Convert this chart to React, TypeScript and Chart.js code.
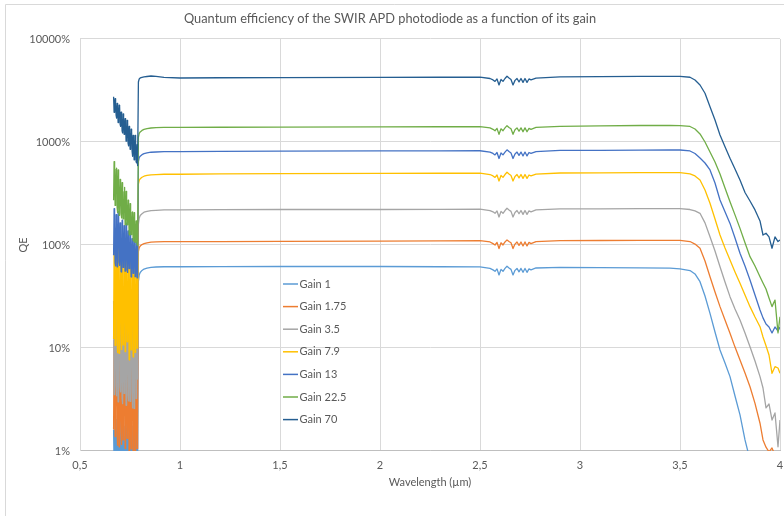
import React, { useEffect, useRef } from "react";
import { Chart, registerables } from "chart.js";

Chart.register(...registerables);

// ---------- texts ----------
const chartTitle = "Quantum efficiency of the SWIR APD photodiode as a function of its gain";
const xAxisTitle = "Wavelength (µm)";
const yAxisTitle = "QE";

// ---------- series meta ----------
const seriesLabels = ["Gain 1", "Gain 1.75", "Gain 3.5", "Gain 7.9", "Gain 13", "Gain 22.5", "Gain 70"];
const seriesColors = ["#5B9BD5", "#ED7D31", "#A5A5A5", "#FFC000", "#4472C4", "#70AD47", "#255E91"];

// ---------- ticks ----------
const yTickValues = [1, 10, 100, 1000, 10000];
const xTickValues = [0.5, 1, 1.5, 2, 2.5, 3, 3.5, 4];

// ---------- data (wavelength in µm, QE in %) ----------
const wavelengths = [
  // noisy short-wave region
  0.668, 0.6705, 0.673, 0.6755, 0.678, 0.6805, 0.683, 0.6855, 0.688, 0.6905, 0.693, 0.6955,
  0.698, 0.7005, 0.703, 0.7055, 0.708, 0.7105, 0.713, 0.7155, 0.718, 0.7205, 0.723, 0.7255,
  0.728, 0.7305, 0.733, 0.7355, 0.738, 0.7405, 0.743, 0.7455, 0.748, 0.7505, 0.753, 0.7555,
  0.758, 0.7605, 0.763, 0.7655, 0.768, 0.7705, 0.773, 0.7755, 0.778, 0.7805, 0.783, 0.7855,
  0.788,
  // rise
  0.792, 0.796, 0.801, 0.81, 0.82, 0.835, 0.855, 0.88, 0.92,
  // plateau
  1.0, 1.2, 1.5, 2.0, 2.3, 2.5,
  // absorption dips
  2.55, 2.565, 2.575, 2.585, 2.595, 2.605, 2.615, 2.625, 2.635, 2.645, 2.655, 2.665, 2.675,
  2.685, 2.695, 2.705, 2.715, 2.725, 2.735, 2.745, 2.755, 2.78,
  // plateau
  2.9, 3.1, 3.3, 3.45,
  // cut-off
  3.5, 3.55, 3.575, 3.6, 3.625, 3.65, 3.675, 3.7, 3.725, 3.75, 3.775, 3.8, 3.825, 3.85, 3.875,
  3.9, 3.915, 3.93, 3.945, 3.96, 3.975, 3.99, 4.0,
];

const gain1 = [
  1.62, 0.73, 0.68, 2.21, 1.8, 0.65, 0.9, 2.03, 2.32, 0.71, 0.65, 2.3,
  1.3, 0.63, 0.54, 1.96, 1.81, 0.52, 0.74, 2.07, 1.31, 0.57, 0.6, 1.74,
  2.02, 0.5, 0.49, 2.16, 1.34, 0.55, 0.7, 1.81, 1.8, 0.45, 0.41, 1.93,
  1.38, 0.46, 0.54, 1.74, 1.46, 0.37, 0.43, 2.04, 0.85, 0.38, 1.69, 0.41,
  0.48,
  44.3, 51.0, 54.1, 56.6, 58.4, 59.7, 60.6, 61.1, 61.5,
  61.5, 61.7, 61.8, 61.8, 61.5, 61.2,
  59.2, 57.3, 55.5, 58.6, 51.2, 58.0, 55.5, 59.2, 62.2, 59.8, 58.0, 51.2, 56.7,
  59.2, 54.9, 59.2, 54.3, 59.2, 54.3, 58.6, 57.3, 59.8,
  60.5, 60.3, 60.0, 59.6,
  58.5, 56.5, 52.3, 44.0, 32.0, 21.7, 14.3, 9.56, 7.15, 5.27, 3.42, 2.24, 1.28, 0.82, 0.585,
  0.418, 0.335, 0.3, 0.27, 0.24, 0.21, 0.19, 0.17,
];

const gain175 = [
  1.62, 11.9, 8.35, 1.38, 2.5, 10.6, 12.0, 1.48, 1.14, 13.6, 6.44, 1.1,
  1.58, 10.7, 10.7, 1.53, 1.16, 12.2, 4.86, 1.28, 1.89, 9.39, 14.1, 1.06,
  1.2, 14.2, 7.1, 1.33, 1.52, 10.8, 9.37, 0.83, 0.82, 12.5, 5.24, 1.05,
  1.87, 9.37, 10.9, 0.86, 0.85, 14.7, 8.05, 0.95, 1.1, 10.9, 5.87, 1.06,
  1.5,
  86.4, 94.4, 97.6, 101, 103, 105, 106.6, 107.2, 108,
  108, 108, 108.5, 109, 109.5, 110,
  107, 103, 100, 106, 92.4, 105, 100, 107, 112, 108, 105, 92.4, 102,
  107, 99, 107, 97.9, 107, 97.9, 106, 103, 108,
  110, 110.5, 111, 111,
  111, 108, 102, 92.9, 69.9, 49.2, 35.0, 25.2, 18.7, 13.9, 10.2, 7.65, 5.72, 4.21, 2.9,
  1.86, 1.28, 1.09, 0.98, 1.07, 0.91, 0.82, 0.73,
];

const gain35 = [
  28.6, 3.52, 5.07, 31.9, 17.2, 4.42, 3.44, 27.7, 21.5, 3.0, 6.24, 34.7,
  34.6, 4.26, 3.75, 23.6, 12.7, 3.27, 2.88, 29.6, 23.0, 3.62, 5.22, 25.7,
  13.8, 2.78, 4.01, 32.3, 28.4, 3.5, 3.07, 24.7, 15.1, 3.03, 5.58, 27.5,
  24.2, 3.81, 2.62, 21.1, 16.4, 2.59, 4.21, 29.9, 18.2, 3.24, 3.23, 18.0,
  5,
  158, 182, 193, 201, 208, 212, 216, 217, 219,
  219, 220, 221, 221, 222, 223,
  216, 210, 203, 214, 187, 212, 203, 216, 227, 219, 212, 187, 207,
  216, 201, 216, 198, 216, 198, 214, 210, 219,
  224, 224, 225, 225,
  225, 221, 214, 203, 164, 120, 87.4, 61.5, 43.7, 31.5, 23.9, 18.7, 14.0, 10.3, 7.48,
  5.27, 4.09, 2.62, 2.86, 2.0, 2.34, 1.1, 2.0,
];

const gain79 = [
  12.2, 98.2, 67.5, 10.6, 19.5, 84.4, 94.8, 11.6, 9.04, 105, 49.9, 8.86,
  12.7, 79.8, 79.3, 12.5, 9.67, 87.8, 36.9, 10.7, 15.4, 66.7, 95.8, 9.21,
  10.3, 93.9, 50.5, 11.5, 12.9, 71.4, 62.7, 7.7, 7.65, 78.6, 37.3, 9.58,
  15.5, 59.7, 67.0, 8.23, 8.18, 84.0, 51.0, 9.06, 10.2, 63.8, 38.8, 9.96,
  14,
  389, 425, 439, 454, 465, 473, 480, 483, 486,
  486, 489, 492, 495, 497, 498,
  483, 468, 453, 478, 418, 473, 453, 483, 508, 488, 473, 418, 463,
  483, 448, 483, 443, 483, 443, 478, 468, 488,
  500, 501, 503, 504,
  503, 489, 468, 428, 342, 254, 179, 125, 93.5, 71.5, 54.7, 42.5, 32.7, 25.2, 20.0,
  16.1, 12.8, 10.5, 8.55, 5.68, 6.58, 6.39, 5.68,
];

const gain13 = [
  79.3, 225, 156, 67.5, 62.7, 197, 169, 61.5, 85.1, 211, 208, 68.4,
  63.5, 164, 118, 55.1, 54.7, 174, 152, 60.6, 72.0, 154, 113, 55.7,
  62.1, 163, 151, 57.4, 54.1, 137, 108, 59.1, 68.8, 135, 126, 49.2,
  48.9, 115, 103, 53.1, 58.2, 125, 102, 49.2, 51.4, 107, 73.1, 48.0,
  60,
  644, 704, 728, 753, 770, 783, 795, 799, 805,
  805, 810, 814, 818, 820, 822,
  798, 774, 749, 790, 691, 782, 749, 798, 839, 807, 782, 691, 765,
  798, 741, 798, 732, 798, 732, 790, 774, 807,
  827, 830, 835, 836,
  836, 818, 773, 699, 625, 535, 400, 273, 210, 162, 117, 83.1, 62.5, 45.7, 32.7,
  23.4, 19.6, 17.1, 16.0, 14.0, 16.0, 14.6, 16.0,
];

const gain225 = [
  272, 645, 536, 242, 305, 544, 557, 233, 207, 535, 389, 194,
  219, 432, 420, 205, 183, 403, 286, 179, 200, 329, 363, 157,
  161, 332, 262, 157, 160, 272, 254, 128, 125, 252, 196, 126,
  143, 208, 210, 112, 109, 206, 174, 106, 107, 171, 146, 100,
  105,
  1108, 1210, 1252, 1295, 1324, 1348, 1367, 1375, 1385,
  1385, 1390, 1395, 1400, 1405, 1410,
  1370, 1327, 1285, 1356, 1186, 1341, 1285, 1370, 1440, 1384, 1341, 1186, 1313,
  1370, 1271, 1370, 1257, 1370, 1257, 1356, 1327, 1384,
  1420, 1430, 1445, 1448,
  1440, 1414, 1337, 1196, 1000, 800, 639, 489, 358, 263, 196, 145, 105, 77, 62.5,
  49.2, 42.8, 37.4, 30.6, 25.2, 29.2, 14.0, 20.1,
];

const gain70 = [
  2754, 1943, 2004, 2633, 2333, 1825, 1706, 2370, 2222, 1546, 1714, 2272,
  2222, 1489, 1420, 1951, 1699, 1284, 1223, 1874, 1748, 1188, 1248, 1680,
  1449, 1018, 1072, 1624, 1550, 967, 919, 1414, 1242, 849, 952, 1334,
  1270, 812, 726, 1156, 1069, 672, 736, 1161, 1007, 642, 627, 944,
  590,
  3820, 4090, 4180, 4230, 4280, 4320, 4370, 4340, 4230,
  4180, 4200, 4220, 4240, 4250, 4260,
  4132, 4004, 3877, 4090, 3578, 4047, 3877, 4132, 4345, 4175, 4047, 3578, 3962,
  4132, 3834, 4132, 3791, 4132, 3791, 4090, 4004, 4175,
  4290, 4310, 4330, 4335,
  4324, 4249, 3999, 3576, 2971, 2201, 1635, 1169, 900, 694, 547, 428, 323, 267, 219,
  171, 125, 130, 120, 93, 120, 108, 112,
];

const seriesValues = [gain1, gain175, gain35, gain79, gain13, gain225, gain70];

// ---------- styling ----------
const FONT = "Lato, 'Open Sans', sans-serif";
const TEXT = "#595959";
const GRID = "#d9d9d9";

const framePlugin = {
  id: "frameAndLegend",
  beforeDraw(chart: any) {
    const { ctx, width, height } = chart;
    ctx.save();
    ctx.fillStyle = "#ffffff";
    ctx.fillRect(0, 0, width, height);
    ctx.strokeStyle = GRID;
    ctx.lineWidth = 1;
    ctx.beginPath();
    ctx.moveTo(5.5, height);
    ctx.lineTo(5.5, 4.5);
    ctx.lineTo(width, 4.5);
    ctx.stroke();
    ctx.restore();
  },
  afterDraw(chart: any) {
    const { ctx, chartArea } = chart;
    const x0 = chartArea.left + 203;
    const y0 = 284;
    const step = 22.6;
    ctx.save();
    ctx.font = `11px ${FONT}`;
    ctx.textBaseline = "middle";
    ctx.textAlign = "left";
    seriesLabels.forEach((label, i) => {
      const y = y0 + i * step;
      ctx.strokeStyle = seriesColors[i];
      ctx.lineWidth = 1.5;
      ctx.beginPath();
      ctx.moveTo(x0, y);
      ctx.lineTo(x0 + 15, y);
      ctx.stroke();
      ctx.fillStyle = TEXT;
      ctx.fillText(label, x0 + 16.5, y);
    });
    ctx.restore();
  },
};

export default function App() {
  const canvasRef = useRef<HTMLCanvasElement | null>(null);

  useEffect(() => {
    if (!canvasRef.current) return;
    const datasets = seriesLabels.map((label, i) => ({
      label,
      data: wavelengths.map((w, j) => ({ x: w, y: seriesValues[i][j] })),
      borderColor: seriesColors[i],
      backgroundColor: seriesColors[i],
      borderWidth: 1.3,
      borderJoinStyle: "round" as const,
      pointRadius: 0,
      tension: 0,
      fill: false,
      order: seriesLabels.length - 1 - i,
    }));

    const chart = new Chart(canvasRef.current, {
      type: "line",
      data: { datasets },
      plugins: [framePlugin],
      options: {
        animation: false,
        responsive: false,
        devicePixelRatio: 1,
        layout: { padding: { left: 0, right: 4, top: 0, bottom: 0 } },
        plugins: {
          legend: { display: false },
          tooltip: { enabled: false },
          title: {
            display: true,
            text: chartTitle,
            color: TEXT,
            font: { family: FONT, size: 12.8, weight: "normal" },
            padding: { top: 11.3, bottom: 12.3 },
          },
        },
        scales: {
          x: {
            type: "linear",
            min: 0.5,
            max: 4,
            afterBuildTicks: (s: any) => {
              s.ticks = xTickValues.map((v) => ({ value: v }));
            },
            afterFit: (s: any) => {
              s.height = 65;
            },
            ticks: {
              callback: (v: any) => String(v).replace(".", ","),
              color: TEXT,
              font: { family: FONT, size: 11 },
              padding: 0,
              maxRotation: 0,
              autoSkip: false,
            },
            grid: { color: GRID, drawTicks: true, tickLength: 8, tickColor: "rgba(0,0,0,0)" },
            border: { color: "#bfbfbf" },
            title: {
              display: true,
              text: xAxisTitle,
              color: TEXT,
              font: { family: FONT, size: 11 },
              padding: { top: 0, bottom: 27 },
            },
          },
          y: {
            type: "logarithmic",
            min: 1,
            max: 10000,
            afterBuildTicks: (s: any) => {
              s.ticks = yTickValues.map((v) => ({ value: v }));
            },
            afterFit: (s: any) => {
              s.width = 80;
            },
            ticks: {
              callback: (v: any) => `${v}%`,
              color: TEXT,
              font: { family: FONT, size: 11 },
              padding: 10,
            },
            grid: { color: GRID, drawTicks: false },
            border: { color: GRID },
            title: {
              display: true,
              text: yAxisTitle,
              color: TEXT,
              font: { family: FONT, size: 11 },
              padding: { top: 17, bottom: 0 },
            },
          },
        },
      },
    } as any);

    return () => chart.destroy();
  }, []);

  return (
    <div style={{ position: "absolute", left: 0, top: 0, width: 784, height: 516, background: "#fff" }}>
      <canvas ref={canvasRef} width={784} height={516} style={{ display: "block" }} />
    </div>
  );
}
